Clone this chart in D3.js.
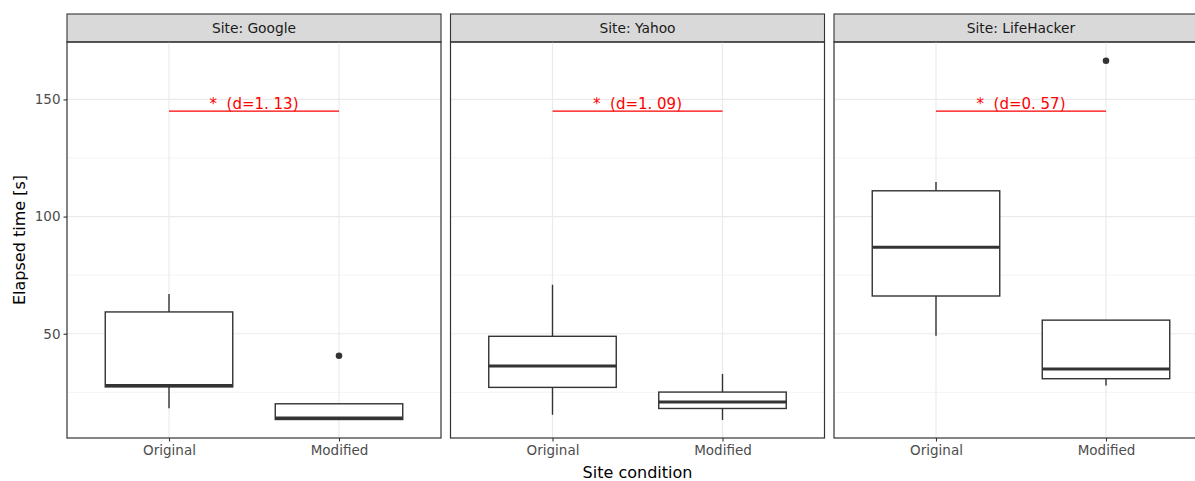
<!DOCTYPE html>
<html>
<head>
<meta charset="utf-8">
<script src="https://cdn.jsdelivr.net/npm/d3@7"></script>
<style>
  body { margin: 0; background: #fff; }
  svg { display: block; font-family: "DejaVu Sans", sans-serif; }
</style>
</head>
<body>
<script>
// facet data
const sites = ["Google", "Yahoo", "LifeHacker"];
const conditions = ["Original", "Modified"];
// per site: [Original, Modified]
const whiskerLow  = [[18.2, 13.4], [15.4, 13.2], [49.1, 27.9]];
const q1          = [[27.3, 13.4], [27.1, 18.1], [66.1, 30.8]];
const median      = [[27.9, 14.0], [36.2, 20.9], [86.9, 35.0]];
const q3          = [[59.3, 20.1], [48.9, 25.1], [111.0, 55.8]];
const whiskerHigh = [[67.0, 20.1], [70.9, 32.8], [114.8, 55.8]];
const outliers    = [[[], [40.6]], [[], []], [[], [166.5]]];
const effectLabels = ["*  (d=1. 13)", "*  (d=1. 09)", "*  (d=0. 57)"];
const bracketValue = [145, 145, 145];
const yTicks = [50, 100, 150];
const yMinor = [25, 75, 125];

let margin = null, panelW = null, panelH = null, panelStep = null, stripH = null;
let svg = null;
let x, y = null;

setupSizes();
appendSvg("body");
setupScales();
sites.forEach((s, i) => drawPanel(i));
appendAxisTitles();

function setupSizes() {
  margin = {top: 14, left: 67};
  stripH = 28;
  panelW = 374;
  panelH = 396;
  panelStep = 383.5;
}

function appendSvg(el) {
  svg = d3.select(el).append("svg")
    .attr("width", 1195)
    .attr("height", 481);
}

function setupScales() {
  x = d3.scalePoint().domain(conditions).range([0, panelW]).padding(0.6);
  y = d3.scaleLinear().domain([5.5, 174.5]).range([panelH, 0]);
}

function drawPanel(i) {
  const g = svg.append("g")
    .attr("transform", `translate(${margin.left + i * panelStep}, ${margin.top})`);

  // strip
  g.append("rect")
    .attr("width", panelW).attr("height", stripH)
    .attr("fill", "#D9D9D9").attr("stroke", "#333").attr("stroke-width", 1.1);
  g.append("text")
    .attr("x", panelW / 2).attr("y", stripH / 2)
    .attr("dy", "0.35em").attr("text-anchor", "middle")
    .attr("font-size", 13.8).attr("fill", "#1A1A1A")
    .text("Site: " + sites[i]);

  const p = g.append("g").attr("transform", `translate(0, ${stripH})`);

  // grid
  p.selectAll(".minor").data(yMinor).enter().append("line")
    .attr("x1", 0).attr("x2", panelW)
    .attr("y1", d => y(d)).attr("y2", d => y(d))
    .attr("stroke", "#EBEBEB").attr("stroke-width", 0.6);
  p.selectAll(".major").data(yTicks).enter().append("line")
    .attr("x1", 0).attr("x2", panelW)
    .attr("y1", d => y(d)).attr("y2", d => y(d))
    .attr("stroke", "#EBEBEB").attr("stroke-width", 1.2);
  p.selectAll(".vgrid").data(conditions).enter().append("line")
    .attr("x1", d => x(d)).attr("x2", d => x(d))
    .attr("y1", 0).attr("y2", panelH)
    .attr("stroke", "#EBEBEB").attr("stroke-width", 1.2);

  const bw = x.step() * 0.75;
  conditions.forEach((c, j) => {
    const cx = x(c);
    p.append("line")
      .attr("x1", cx).attr("x2", cx)
      .attr("y1", y(whiskerHigh[i][j])).attr("y2", y(q3[i][j]))
      .attr("stroke", "#333").attr("stroke-width", 1.4);
    p.append("line")
      .attr("x1", cx).attr("x2", cx)
      .attr("y1", y(q1[i][j])).attr("y2", y(whiskerLow[i][j]))
      .attr("stroke", "#333").attr("stroke-width", 1.4);
    p.append("rect")
      .attr("x", cx - bw / 2).attr("width", bw)
      .attr("y", y(q3[i][j])).attr("height", y(q1[i][j]) - y(q3[i][j]))
      .attr("fill", "#fff").attr("stroke", "#333").attr("stroke-width", 1.4);
    p.append("line")
      .attr("x1", cx - bw / 2).attr("x2", cx + bw / 2)
      .attr("y1", y(median[i][j])).attr("y2", y(median[i][j]))
      .attr("stroke", "#333").attr("stroke-width", 3);
    p.selectAll(null).data(outliers[i][j]).enter().append("circle")
      .attr("cx", cx).attr("cy", d => y(d)).attr("r", 3.3)
      .attr("fill", "#333");
  });

  // significance bracket
  const by = y(bracketValue[i]);
  p.append("line")
    .attr("x1", x(conditions[0])).attr("x2", x(conditions[1]))
    .attr("y1", by).attr("y2", by)
    .attr("stroke", "#FF0000").attr("stroke-width", 1.2);
  p.append("text")
    .attr("x", (x(conditions[0]) + x(conditions[1])) / 2)
    .attr("y", by - 2.5)
    .attr("text-anchor", "middle")
    .attr("font-size", 15).attr("fill", "#FF0000")
    .style("white-space", "pre")
    .text(effectLabels[i]);

  // panel border
  p.append("rect")
    .attr("width", panelW).attr("height", panelH)
    .attr("fill", "none").attr("stroke", "#333").attr("stroke-width", 1.2);

  // x axis
  const xa = p.append("g").attr("transform", `translate(0, ${panelH})`)
    .call(d3.axisBottom(x).tickSize(3.5).tickPadding(4));
  xa.select(".domain").remove();
  xa.selectAll("line").attr("stroke", "#333").attr("stroke-width", 1.1);
  xa.selectAll("text").attr("font-size", 13.5).attr("fill", "#4D4D4D")
    .attr("font-family", "DejaVu Sans");

  if (i === 0) {
    const ya = p.append("g")
      .call(d3.axisLeft(y).tickValues(yTicks).tickSize(3.5).tickPadding(3));
    ya.select(".domain").remove();
    ya.selectAll("line").attr("stroke", "#333").attr("stroke-width", 1.1);
    ya.selectAll("text").attr("font-size", 13.5).attr("fill", "#4D4D4D")
      .attr("font-family", "DejaVu Sans");
  }
}

function appendAxisTitles() {
  const totalW = panelStep * 2 + panelW;
  svg.append("text")
    .attr("x", margin.left + totalW / 2).attr("y", 478)
    .attr("text-anchor", "middle").attr("font-size", 16).attr("fill", "#000")
    .text("Site condition");
  svg.append("text")
    .attr("transform", `translate(25, ${margin.top + stripH + panelH / 2}) rotate(-90)`)
    .attr("text-anchor", "middle").attr("font-size", 16).attr("fill", "#000")
    .text("Elapsed time [s]");
}
</script>
</body>
</html>
